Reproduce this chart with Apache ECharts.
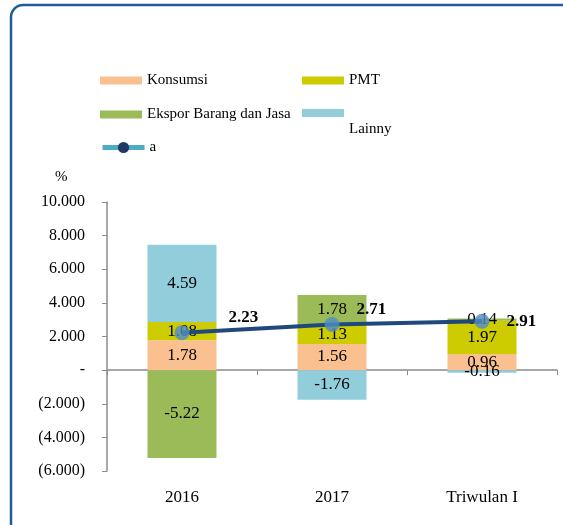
<!DOCTYPE html>
<html>
<head>
<meta charset="utf-8">
<script src="https://cdn.jsdelivr.net/npm/echarts@6/dist/echarts.min.js"></script>
<style>
  html, body { margin: 0; padding: 0; background: #fff; }
  #chart { width: 563px; height: 525px; }
</style>
</head>
<body>
<div id="chart"></div>
<script>
// 数据
const categories = ['2016', '2017', 'Triwulan I']
const konsumsi = [1.78, 1.56, 0.96]
const pmt = [1.08, 1.13, 1.97]
const ekspor = [-5.22, 1.78, 0.14]
const lainny = [4.59, -1.76, -0.16]
const lineA = [2.23, 2.71, 2.91]
// 折线标签偏移
const lineLabelOffsets = [[34, -15], [12, -15], [12, 0]]

const font = 'Liberation Serif'
const chart = echarts.init(document.getElementById('chart'))

function yLabel(v) {
  if (v === 0) return '-'
  if (v < 0) return '(' + Math.abs(v).toFixed(3) + ')'
  return v.toFixed(3)
}

function barSeries(name, data, color) {
  return {
    name: name,
    type: 'bar',
    stack: 'total',
    barWidth: '46%',
    xAxisIndex: 0,
    itemStyle: { color: color },
    label: {
      show: true,
      position: 'inside',
      color: '#000',
      fontFamily: font,
      fontSize: 17,
      formatter: p => p.value.toFixed(2),
    },
    data: data,
  }
}

function legendAt(name, left, top, extra) {
  return Object.assign({
    data: [name],
    left: left,
    top: top,
    itemWidth: 42,
    itemHeight: 8,
    itemGap: 5,
    icon: 'rect',
    textStyle: { fontFamily: font, fontSize: 15, color: '#000' },
  }, extra || {})
}

const option = {
  animation: false,
  graphic: [
    {
      type: 'rect',
      shape: { x: 11, y: 5, width: 580, height: 530, r: 12 },
      style: { fill: 'none', stroke: '#1f5c99', lineWidth: 2.5 },
      z: -1,
    },
    {
      type: 'text',
      left: 55,
      top: 170,
      style: { text: '%', fontFamily: font, fontSize: 15, fill: '#000' },
    },
  ],
  legend: [
    legendAt('Konsumsi', 95, 68),
    legendAt('PMT', 297, 68),
    legendAt('Ekspor Barang dan Jasa', 95, 102),
    legendAt('Lainny', 297, 84, {
      formatter: n => '\n\n' + n,
      textStyle: { fontFamily: font, fontSize: 15, color: '#000', lineHeight: 16 },
    }),
    {
      data: [{ name: 'a', itemStyle: { color: '#1f3864' }, lineStyle: { color: '#4bacc6', width: 5 } }],
      left: 95,
      top: 135,
      itemWidth: 42,
      itemHeight: 14,
      textStyle: { fontFamily: font, fontSize: 15, color: '#000' },
    },
  ],
  grid: { left: 107, right: 6, top: 202, bottom: 54 },
  xAxis: [
    {
      type: 'category',
      data: categories,
      axisLine: { onZero: true, lineStyle: { color: '#8c8c8c', width: 1.5 } },
      axisTick: { show: true, length: 5, lineStyle: { color: '#8c8c8c' } },
      axisLabel: { show: false },
    },
    {
      type: 'category',
      data: categories,
      position: 'bottom',
      axisLine: { show: false },
      axisTick: { show: false },
      axisLabel: { margin: 18, color: '#000', fontFamily: font, fontSize: 17 },
    },
  ],
  yAxis: {
    type: 'value',
    min: -6,
    max: 10,
    interval: 2,
    splitLine: { show: false },
    axisLine: { show: true, lineStyle: { color: '#8c8c8c', width: 1.5 } },
    axisTick: { show: true, length: 5, lineStyle: { color: '#8c8c8c' } },
    axisLabel: { margin: 22, color: '#000', fontFamily: font, fontSize: 16, formatter: yLabel },
  },
  series: [
    barSeries('Konsumsi', konsumsi, '#fac090'),
    barSeries('PMT', pmt, '#cccc00'),
    barSeries('Ekspor Barang dan Jasa', ekspor, '#9bbb59'),
    barSeries('Lainny', lainny, '#92cddc'),
    {
      name: 'a',
      type: 'line',
      xAxisIndex: 0,
      z: 5,
      symbol: 'circle',
      symbolSize: 15,
      itemStyle: { color: 'rgba(79,140,200,0.8)' },
      lineStyle: { color: '#1f497d', width: 4 },
      label: {
        show: true,
        position: 'right',
        color: '#000',
        fontFamily: font,
        fontSize: 17,
        fontWeight: 'bold',
        formatter: p => p.value.toFixed(2),
      },
      data: lineA.map((v, i) => ({ value: v, label: { offset: lineLabelOffsets[i] } })),
    },
  ],
}

chart.setOption(option)
</script>
</body>
</html>
